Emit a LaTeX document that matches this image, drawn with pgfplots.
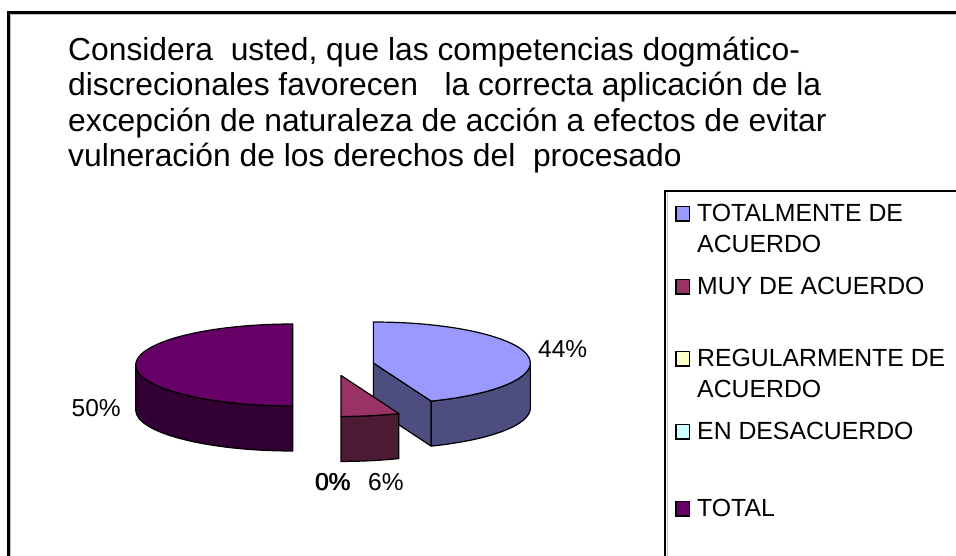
\documentclass[border=0pt]{standalone}
\usepackage{fontspec}
\setmainfont{Liberation Sans}
\usepackage{pgfplots}
\pgfplotsset{compat=1.18}
\usepackage{pgfplotstable}

\definecolor{lavtop}{HTML}{9999FF}
\definecolor{lavside}{HTML}{4D4D80}
\definecolor{martop}{HTML}{993366}
\definecolor{marside}{HTML}{4D1A33}
\definecolor{yeltop}{HTML}{FFFFCC}
\definecolor{cyntop}{HTML}{CCFFFF}
\definecolor{purtop}{HTML}{660066}
\definecolor{purside}{HTML}{330033}

% values of the pie (percent)
\pgfplotstableread{
cat value
1 44
2 6
3 0
4 0
5 50
}\piedata

% pie geometry (in px of the 956x556 picture, y measured upward)
\def\pcx{333.4}
\def\pcy{191}
\def\pierx{157}
\def\piery{41}
\def\pieh{45}
\def\pieex{40.7}

\newcommand\pieslice[4]{%
  \pgfmathsetmacro\slps{#1}%
  \pgfmathsetmacro\slpe{#2}%
  \pgfmathsetmacro\slw{\slps-\slpe}%
  \ifdim\slw pt>0.01pt
  \pgfmathsetmacro\slmid{(\slps+\slpe)/2}%
  \pgfmathsetmacro\slcx{\pcx+\pieex*cos(\slmid)}%
  \pgfmathsetmacro\slcy{\pcy+\pieex*\piery/\pierx*sin(\slmid)}%
  \pgfmathsetmacro\slcyb{\slcy-\pieh}%
  \pgfmathsetmacro\slxs{\slcx+\pierx*cos(\slps)}%
  \pgfmathsetmacro\slys{\slcy+\piery*sin(\slps)}%
  \pgfmathsetmacro\slysb{\slys-\pieh}%
  \pgfmathsetmacro\slxe{\slcx+\pierx*cos(\slpe)}%
  \pgfmathsetmacro\slye{\slcy+\piery*sin(\slpe)}%
  \pgfmathsetmacro\slyeb{\slye-\pieh}%
  \pgfmathsetmacro\slce{cos(\slpe)}%
  \pgfmathsetmacro\slcs{cos(\slps)}%
  \pgfmathsetmacro\slva{max(\slpe,-180)}%
  \pgfmathsetmacro\slvb{min(\slps,0)}%
  \pgfmathsetmacro\slvd{\slvb-\slva}%
  % radial face at the end angle
  \ifdim\slce pt>0.001pt
    \edef\sltmp{\noexpand\filldraw[fill=#4,draw=black,line width=1.2bp,line join=round]
      (\slcx,\slcy) -- (\slxe,\slye) -- (\slxe,\slyeb) -- (\slcx,\slcyb) -- cycle;}\sltmp
  \fi
  % radial face at the start angle
  \ifdim\slcs pt<-0.001pt
    \edef\sltmp{\noexpand\filldraw[fill=#4,draw=black,line width=1.2bp,line join=round]
      (\slcx,\slcy) -- (\slxs,\slys) -- (\slxs,\slysb) -- (\slcx,\slcyb) -- cycle;}\sltmp
  \fi
  % outer side
  \ifdim\slvd pt>0.01pt
    \pgfmathsetmacro\slxa{\slcx+\pierx*cos(\slva)}%
    \pgfmathsetmacro\slya{\slcy+\piery*sin(\slva)}%
    \pgfmathsetmacro\slxb{\slcx+\pierx*cos(\slvb)}%
    \pgfmathsetmacro\slyb{\slcy+\piery*sin(\slvb)}%
    \pgfmathsetmacro\slybb{\slyb-\pieh}%
    \edef\sltmp{\noexpand\filldraw[fill=#4,draw=black,line width=1.2bp,line join=round]
      (\slxa,\slya) arc[start angle=\slva,end angle=\slvb,x radius=\pierx bp,y radius=\piery bp]
      -- (\slxb,\slybb) arc[start angle=\slvb,end angle=\slva,x radius=\pierx bp,y radius=\piery bp]
      -- cycle;}\sltmp
  \fi
  % top face
  \edef\sltmp{\noexpand\filldraw[fill=#3,draw=black,line width=1.2bp,line join=round]
    (\slcx,\slcy) -- (\slxs,\slys) arc[start angle=\slps,end angle=\slpe,x radius=\pierx bp,y radius=\piery bp]
    -- cycle;}\sltmp
  \fi
}

\begin{document}
\begin{tikzpicture}
\pgfplotstablegetelem{0}{value}\of\piedata \let\vA\pgfplotsretval
\pgfplotstablegetelem{1}{value}\of\piedata \let\vB\pgfplotsretval
\pgfplotstablegetelem{2}{value}\of\piedata \let\vC\pgfplotsretval
\pgfplotstablegetelem{3}{value}\of\piedata \let\vD\pgfplotsretval
\pgfplotstablegetelem{4}{value}\of\piedata \let\vE\pgfplotsretval
\pgfmathsetmacro\aA{90}
\pgfmathsetmacro\aB{\aA-3.6*\vA}
\pgfmathsetmacro\aC{\aB-3.6*\vB}
\pgfmathsetmacro\aD{\aC-3.6*\vC}
\pgfmathsetmacro\aE{\aD-3.6*\vD}
\pgfmathsetmacro\aF{\aE-3.6*\vE}
\begin{axis}[
  scale only axis, width=956bp, height=556bp,
  xmin=0, xmax=956, ymin=0, ymax=556,
  enlargelimits=false, hide axis,
]
\path (0,0) rectangle (956,556);
% outer frame
\draw[line width=1.2bp, black!25] (10.5,0) -- (10.5,541.5) -- (956,541.5);
\draw[line width=2.2bp, black] (8.5,0) -- (8.5,543.5) -- (956,543.5);
% title
\begin{scope}[every node/.style={anchor=base west, inner sep=0pt, font=\fontsize{31.8bp}{36bp}\selectfont}]
\node at (68,495.5) {Considera\ \ usted, que las competencias dogmático-};
\node at (68,460) {discrecionales favorecen\ \ \ la correcta aplicación de la};
\node at (68,424.7) {excepción de naturaleza de acción a efectos de evitar};
\node at (68,389.4) {vulneración de los derechos del\ \ procesado};
\end{scope}
% pie
\pieslice{\aE}{\aF}{purtop}{purside}
\pieslice{\aA}{\aB}{lavtop}{lavside}
\pieslice{\aC}{\aD}{yeltop}{yeltop}
\pieslice{\aD}{\aE}{cyntop}{cyntop}
\pieslice{\aB}{\aC}{martop}{marside}
% data labels
\begin{scope}[every node/.style={anchor=base west, inner sep=0pt, font=\fontsize{24.5bp}{28bp}\selectfont}]
\node at (538,198.5) {44\%};
\node at (71.5,139.5) {50\%};
\node at (314.6,65) {0\%};
\node at (315.4,65) {0\%};
\node at (368,65) {6\%};
\end{scope}
% legend box
\draw[line width=1bp, black!25] (667,0) -- (667,363);
\draw[line width=1.6bp, black] (665,0) -- (665,365) -- (956,365);
\begin{scope}[every node/.style={anchor=base west, inner sep=0pt, font=\fontsize{24.8bp}{30bp}\selectfont}]
\filldraw[fill=lavtop, draw=black, line width=1.6bp] (676,335) rectangle (689.5,349.5);
\node at (697,334) {TOTALMENTE DE};
\node at (697,303) {ACUERDO};
\filldraw[fill=martop, draw=black, line width=1.6bp] (676,262) rectangle (689.5,276.5);
\node at (697,261) {MUY DE ACUERDO};
\filldraw[fill=yeltop, draw=black, line width=1.6bp] (676,190) rectangle (689.5,204.5);
\node at (697,189) {REGULARMENTE DE};
\node at (697,158) {ACUERDO};
\filldraw[fill=cyntop, draw=black, line width=1.6bp] (676,117) rectangle (689.5,131.5);
\node at (697,116) {EN DESACUERDO};
\filldraw[fill=purtop, draw=black, line width=1.6bp] (676,40) rectangle (689.5,54.5);
\node at (697,39) {TOTAL};
\end{scope}
\end{axis}
\end{tikzpicture}
\end{document}
